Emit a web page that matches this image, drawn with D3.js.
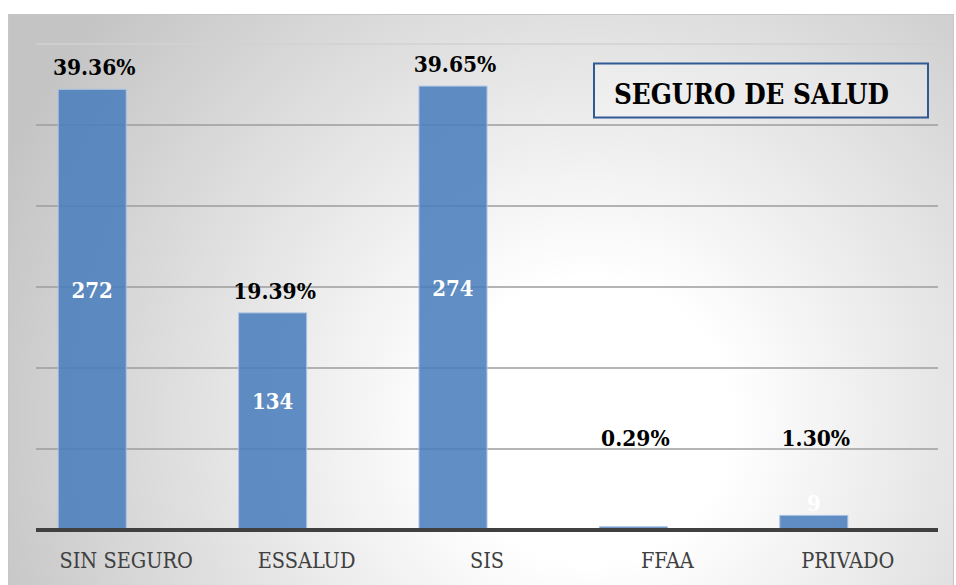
<!DOCTYPE html>
<html>
<head>
<meta charset="utf-8">
<script src="https://cdn.jsdelivr.net/npm/d3@7/dist/d3.min.js"></script>
<style>
  html, body { margin: 0; padding: 0; background: #ffffff; }
  svg { display: block; }
</style>
</head>
<body>
<svg id="chart" width="956" height="585"></svg>
<script>
const categories = ["SIN SEGURO", "ESSALUD", "SIS", "FFAA", "PRIVADO"];
const counts = [272, 134, 274, 2, 9];
const percentLabels = ["39.36%", "19.39%", "39.65%", "0.29%", "1.30%"];
const yTicks = [0, 50, 100, 150, 200, 250, 300];
const title = "SEGURO DE SALUD";

const svg = d3.select("#chart");
const plot = { left: 36, right: 938, top: 44, bottom: 530 };

const defs = svg.append("defs");
const grad = defs.append("radialGradient")
  .attr("id", "bg").attr("gradientUnits", "userSpaceOnUse")
  .attr("cx", 590).attr("cy", 420).attr("r", 640);
grad.append("stop").attr("offset", 0).attr("stop-color", "#ffffff");
grad.append("stop").attr("offset", 0.22).attr("stop-color", "#ffffff");
grad.append("stop").attr("offset", 1).attr("stop-color", "#c4c4c4");

svg.append("rect").attr("x", 8.5).attr("y", 14.5).attr("width", 945).attr("height", 600)
  .attr("fill", "url(#bg)").attr("stroke", "#c6c6c6").attr("stroke-width", 1);

// category bands; each band is a two-slot cluster (count bar + empty slot)
const x = d3.scaleBand().domain(categories).range([plot.left, plot.right])
  .paddingInner(0.246).paddingOuter(0.123);
const xSub = d3.scaleBand().domain(["count", "pct"]).range([0, x.bandwidth()]);
const y = d3.scaleLinear().domain([0, 300]).range([plot.bottom, plot.top]);

// gridlines
svg.append("g").selectAll("line").data(yTicks.filter(t => t > 0)).join("line")
  .attr("x1", plot.left).attr("x2", plot.right)
  .attr("y1", d => y(d)).attr("y2", d => y(d))
  .attr("stroke", d => d === 300 ? "#d2d2d2" : "#9c9c9c")
  .attr("stroke-width", 1.5);

const serif = "'DejaVu Serif Condensed', 'DejaVu Serif', serif";
const barX = i => x(categories[i]) + xSub("count");

// bars
svg.append("g").selectAll("rect").data(counts).join("rect")
  .attr("x", (d, i) => barX(i))
  .attr("width", xSub.bandwidth())
  .attr("y", d => y(d))
  .attr("height", d => y(0) - y(d))
  .attr("fill", "#4a7dbb").attr("fill-opacity", 0.87)
  .attr("stroke", "#a9c2e2").attr("stroke-width", 1);

// axis line
svg.append("line").attr("x1", plot.left).attr("x2", plot.right)
  .attr("y1", y(0)).attr("y2", y(0))
  .attr("stroke", "#404040").attr("stroke-width", 4);

// category labels at band centres
svg.append("g").selectAll("text").data(categories).join("text")
  .attr("x", d => x(d) + x.bandwidth() / 2)
  .attr("y", 568)
  .attr("text-anchor", "middle")
  .attr("font-family", serif).attr("font-stretch", "condensed")
  .attr("font-size", 21.5).attr("fill", "#404040")
  .text(d => d);

// percentage labels
svg.append("g").selectAll("text").data(percentLabels).join("text")
  .attr("x", (d, i) => barX(i) + xSub.bandwidth() / 2 + 2)
  .attr("y", (d, i) => Math.min(y(counts[i]) - 14, y(50) - 3))
  .attr("text-anchor", "middle")
  .attr("font-family", serif).attr("font-stretch", "condensed")
  .attr("font-weight", "bold").attr("font-size", 22.5).attr("fill", "#000000")
  .text(d => d);

// count labels
svg.append("g").selectAll("text").data(counts).join("text")
  .attr("x", (d, i) => barX(i) + xSub.bandwidth() / 2)
  .attr("y", d => y(0) - (0.5 * (y(0) - y(d)) + 20))
  .attr("dy", "0.36em")
  .attr("text-anchor", "middle")
  .attr("font-family", serif).attr("font-stretch", "condensed")
  .attr("font-weight", "bold").attr("font-size", 22).attr("fill", "#ffffff")
  .text(d => d);

// title box
svg.append("rect").attr("x", 594).attr("y", 63.5).attr("width", 334).attr("height", 54)
  .attr("fill", "#ffffff").attr("fill-opacity", 0.25)
  .attr("stroke", "#2f5a96").attr("stroke-width", 2);
svg.append("text").attr("x", 614).attr("y", 104)
  .attr("font-family", serif).attr("font-stretch", "condensed")
  .attr("font-weight", "bold").attr("font-size", 27.5).attr("fill", "#000000")
  .text(title);
</script>
</body>
</html>
